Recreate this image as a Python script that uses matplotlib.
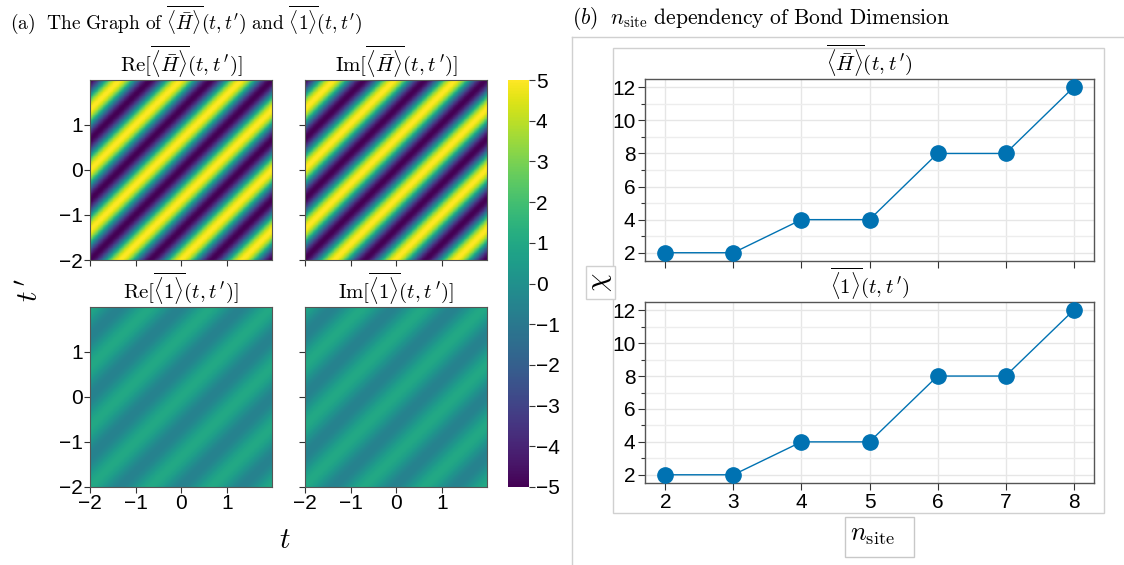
import numpy as np
import matplotlib.pyplot as plt
from matplotlib.patches import Rectangle
from matplotlib.lines import Line2D

plt.rcParams['font.family'] = ['Liberation Sans', 'DejaVu Sans']
plt.rcParams['mathtext.fontset'] = 'cm'

W, H = 1124, 565

# ---- data ----
# heatmap field parameters (stripes depend on t - t')
t_grid = np.arange(-2, 2, 0.01)
H_amp = 5.0
H_period = 4 / 3
H_phase_re = np.pi
H_phase_im = np.pi + 0.12
one_offset = 0.2
one_amp = 0.8
one_period = 4 / 3
one_phase_re = 0.0
one_phase_im = 0.2

n_site = [2, 3, 4, 5, 6, 7, 8]
chi_H = [2, 2, 4, 4, 8, 8, 12]
chi_1 = [2, 2, 4, 4, 8, 8, 12]

blue = '#0072b2'


def rect(x0, y0, x1, y1):
    return [x0 / W, 1 - y1 / H, (x1 - x0) / W, (y1 - y0) / H]


tt, ss = np.meshgrid(t_grid, t_grid)
d = tt - ss
fields = [
    H_amp * np.cos(2 * np.pi * d / H_period + H_phase_re),
    H_amp * np.cos(2 * np.pi * d / H_period + H_phase_im),
    one_offset + one_amp * np.cos(2 * np.pi * d / one_period + one_phase_re),
    one_offset + one_amp * np.cos(2 * np.pi * d / one_period + one_phase_im),
]
titles = [
    r"$\mathrm{Re}[\overline{\langle\bar{H}\rangle}(t,t\,')]$",
    r"$\mathrm{Im}[\overline{\langle\bar{H}\rangle}(t,t\,')]$",
    r"$\mathrm{Re}[\overline{\langle1\rangle}(t,t\,')]$",
    r"$\mathrm{Im}[\overline{\langle1\rangle}(t,t\,')]$",
]
boxes = [(90, 80, 272, 260), (305, 80, 487, 260),
         (90, 307, 272, 487), (305, 307, 487, 487)]

fig = plt.figure(figsize=(W / 100, H / 100), dpi=100)

for i, (f, ttl, b) in enumerate(zip(fields, titles, boxes)):
    ax = fig.add_axes(rect(*b))
    im = ax.pcolormesh(t_grid, t_grid, f, cmap='viridis', vmin=-5, vmax=5,
                       shading='auto', rasterized=True)
    ax.set_xlim(-2, 1.99)
    ax.set_ylim(-2, 1.99)
    ax.set_xticks([-2, -1, 0, 1])
    ax.set_yticks([-2, -1, 0, 1])
    ax.tick_params(direction='out', length=4, width=0.8, labelsize=15,
                   color='#333333', pad=1)
    if i % 2 == 1:
        ax.set_yticklabels([])
    if i < 2:
        ax.set_xticklabels([])
    for sp in ax.spines.values():
        sp.set_color('#555555')
        sp.set_linewidth(0.8)
    ax.set_title(ttl, fontsize=15, pad=3)

cax = fig.add_axes(rect(508, 80, 529, 487))
cb = fig.colorbar(im, cax=cax, ticks=range(-5, 6))
cb.outline.set_visible(False)
cax.tick_params(direction='out', length=4, width=0.8, labelsize=15,
                color='#333333', pad=1)

fig.text(10 / W, 1 - 20 / H,
         r"$\mathrm{(a)\ \ The\ Graph\ of}\ \overline{\langle\bar{H}\rangle}(t,t')"
         r"\ \mathrm{and}\ \overline{\langle1\rangle}(t,t')$",
         fontsize=14, va='center', ha='left')
fig.text(30 / W, 1 - 290 / H, r"$t\,'$", fontsize=21, rotation=90,
         va='center', ha='center')
fig.text(285 / W, 1 - 540 / H, r"$t$", fontsize=21, va='center', ha='center')

# ---- panel (b) ----
fig.text(572 / W, 1 - 18 / H,
         r"$(b)\ \ n_{\mathrm{site}}\ \mathrm{dependency\ of\ Bond\ Dimension}$",
         fontsize=15.5, va='center', ha='left')
fig.add_artist(Line2D([572 / W, 1], [1 - 37 / H, 1 - 37 / H],
                      transform=fig.transFigure, color='#d0d0d0', lw=1))
fig.add_artist(Line2D([572 / W, 572 / W], [0, 1 - 37 / H],
                      transform=fig.transFigure, color='#d0d0d0', lw=1))
fig.add_artist(Rectangle((613 / W, 1 - 513 / H), (1104 - 613) / W,
                         (513 - 48) / H, transform=fig.transFigure,
                         fill=False, edgecolor='#d0d0d0', lw=1))

sub_titles = [r"$\overline{\langle\bar{H}\rangle}(t,t\,')$",
              r"$\overline{\langle1\rangle}(t,t\,')$"]
for j, (chi, ttl, b) in enumerate(zip([chi_H, chi_1], sub_titles,
                                      [(645, 79, 1094, 261),
                                       (645, 302, 1094, 483)])):
    ax = fig.add_axes(rect(*b))
    ax.plot(n_site, chi, color=blue, lw=1, marker='o', markersize=11,
            zorder=3)
    ax.set_xlim(1.7, 8.3)
    ax.set_ylim(1.5, 12.5)
    ax.set_xticks(n_site)
    ax.set_yticks([2, 4, 6, 8, 10, 12])
    ax.set_yticks([3, 5, 7, 9, 11], minor=True)
    ax.grid(True, which='major', color='#e6e6e6', lw=1)
    ax.grid(True, which='minor', axis='y', color='#ededed', lw=1)
    ax.set_axisbelow(True)
    ax.tick_params(direction='out', length=5, width=0.8, labelsize=15,
                   color='#333333', pad=2)
    ax.tick_params(which='minor', direction='out', length=3, width=0.8,
                   color='#333333')
    if j == 0:
        ax.set_xticklabels([])
    for sp in ax.spines.values():
        sp.set_color('#555555')
        sp.set_linewidth(1)
    ax.set_title(ttl, fontsize=15, pad=3)

fig.add_artist(Rectangle((586 / W, 1 - 299 / H), 29 / W, 33 / H,
                         transform=fig.transFigure, facecolor='white',
                         edgecolor='#d0d0d0', lw=1))
fig.text(600 / W, 1 - 282 / H, r"$\chi$", fontsize=21, rotation=90,
         va='center', ha='center')
fig.add_artist(Rectangle((845 / W, 1 - 557 / H), 69 / W, 40 / H,
                         transform=fig.transFigure, facecolor='white',
                         edgecolor='#c8c8c8', lw=1))
fig.text(873 / W, 1 - 535 / H, r"$n_{\mathrm{site}}$", fontsize=19,
         va='center', ha='center')

fig.savefig('out.png', dpi=100)
